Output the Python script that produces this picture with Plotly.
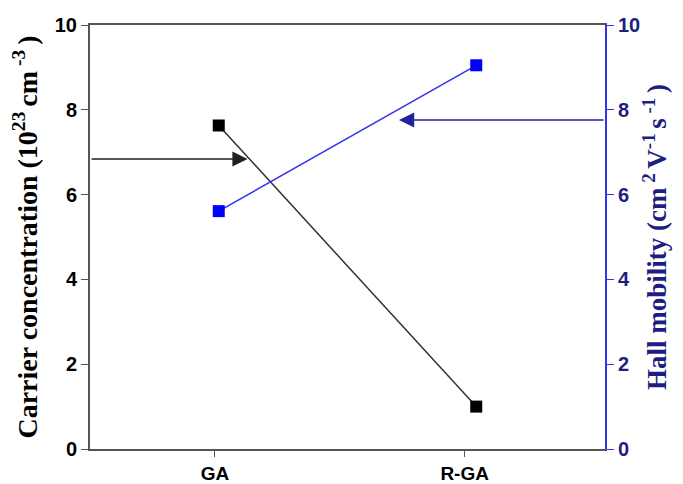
import plotly.graph_objects as go

categories = ["GA", "R-GA"]
carrier = [7.63, 1.0]
mobility = [5.61, 9.05]
yticks = [0, 2, 4, 6, 8, 10]

x_pos = [0, 1]

fig = go.Figure()
fig.add_trace(go.Scatter(
    x=x_pos, y=carrier, mode="lines+markers",
    line=dict(color="#333333", width=1.5),
    marker=dict(symbol="square", size=12, color="black"),
    yaxis="y", showlegend=False))
fig.add_trace(go.Scatter(
    x=x_pos, y=mobility, mode="lines+markers",
    line=dict(color="#3333ee", width=1.5),
    marker=dict(symbol="square", size=12, color="#0000ff"),
    yaxis="y2", showlegend=False))

navy = "#1e1e80"
sans = "Liberation Sans, Arial"
serif = "Liberation Serif, Times New Roman"

fig.update_layout(
    width=683, height=484,
    margin=dict(l=90, r=78, t=25, b=35),
    plot_bgcolor="white", paper_bgcolor="white",
    xaxis=dict(range=[-0.5, 1.5], tickvals=[-0.015, 0.955], ticktext=categories,
               automargin=False,
               showgrid=False, zeroline=False, showline=True, linecolor="#555555",
               linewidth=2, mirror=True, ticks="outside", ticklen=6, tickcolor="#555555",
               tickfont=dict(family=sans, size=19, color="black", weight="bold")),
    yaxis=dict(range=[0, 10], tickvals=yticks, showgrid=False, zeroline=False,
               showline=True, linecolor="#555555", linewidth=2, ticks="outside",
               ticklen=7, tickcolor="#555555",
               tickfont=dict(family=sans, size=20, color="black", weight="bold"),
               title=dict(text="Carrier concentration (10<sup>23 </sup>cm<sup> -3 </sup>)",
                          font=dict(family=serif, size=28, color="black", weight="bold"),
                          standoff=9)),
    yaxis2=dict(range=[0, 10], tickvals=yticks, overlaying="y", side="right",
                showgrid=False, zeroline=False, showline=True, linecolor="#3333ee",
                linewidth=2, ticks="outside", ticklen=7, tickcolor="#3333ee",
                tickfont=dict(family=sans, size=20, color=navy, weight="bold"),
                title=dict(text="Hall mobility (cm<sup> 2 </sup>V<sup>-1 </sup>s<sup> -1 </sup>)",
                           font=dict(family=serif, size=27, color=navy, weight="bold"),
                           standoff=8)),
)

fig.add_annotation(x=0.112, y=6.84, ax=-0.5, ay=6.84, xref="x", yref="y",
                   axref="x", ayref="y", showarrow=True, arrowhead=2, arrowsize=1.9,
                   arrowwidth=1.6, arrowcolor="#222222", text="")
fig.add_annotation(x=0.70, y=7.76, ax=1.5, ay=7.76, xref="x", yref="y",
                   axref="x", ayref="y", showarrow=True, arrowhead=2, arrowsize=1.9,
                   arrowwidth=1.6, arrowcolor="#22229a", text="")

fig.write_html("out.html")
